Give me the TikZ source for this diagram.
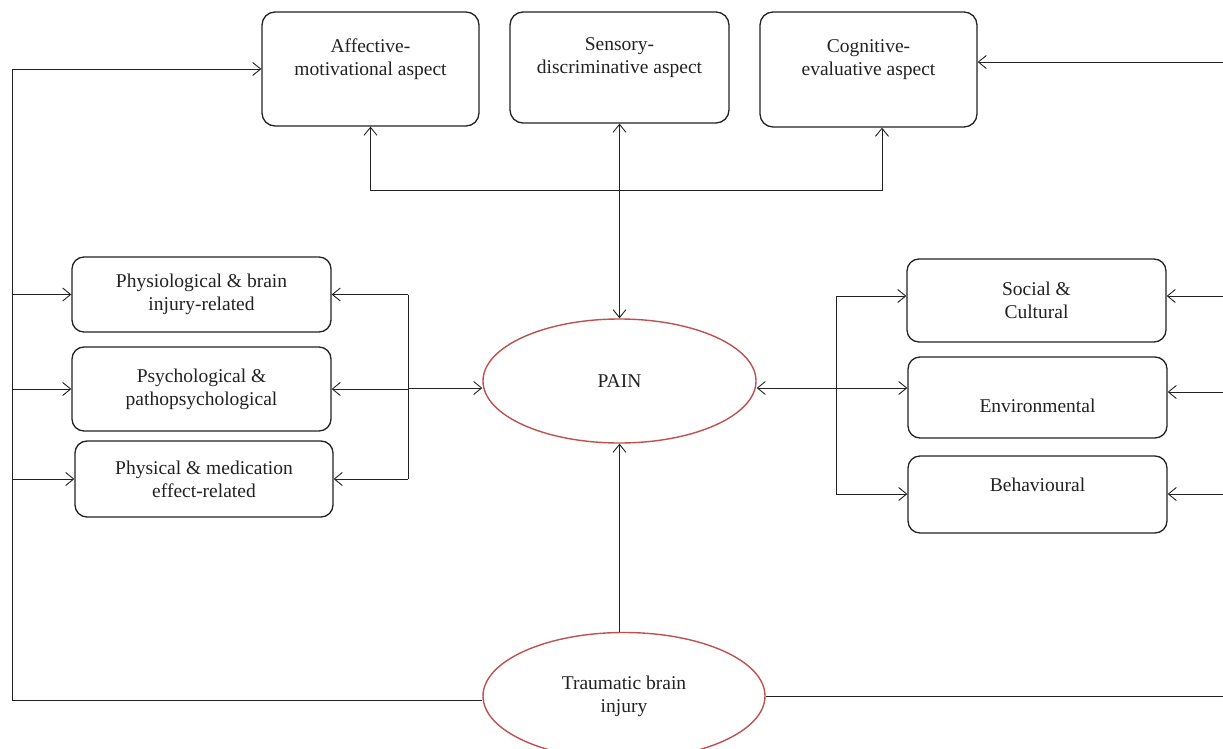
\documentclass[tikz,border=0pt]{standalone}
\usepackage{fontspec}
\setmainfont{Liberation Serif}
\usetikzlibrary{arrows.meta, positioning, shapes.geometric}
\definecolor{pRed}{HTML}{C0504D}
\definecolor{pInk}{HTML}{222222}

\begin{document}
\begin{tikzpicture}[x=1pt, y=-1pt,
    every node/.style={font=\fontsize{19.5}{23}\selectfont, text=pInk, align=center},
    box/.style={draw=pInk, line width=1.3pt, rounded corners=13pt, inner sep=0pt},
    oval/.style={draw=pRed, line width=1.4pt, ellipse, inner sep=0pt},
    link/.style={draw=pInk, line width=0.9pt},
    arr/.style={link, -{Straight Barb[length=8pt, width=13pt]}},
    dblarr/.style={link, {Straight Barb[length=8pt, width=13pt]}-{Straight Barb[length=8pt, width=13pt]}}]

    \useasboundingbox (0,0) rectangle (1223,749);

    % three aspects
    \node[box, minimum width=217pt, minimum height=114pt] (aff) at (370.5,69) {Affective-\\motivational aspect\\\mbox{}};
    \node[box, minimum width=219pt, minimum height=111pt] (sen) at (619.5,67.5) {Sensory-\\discriminative aspect\\\mbox{}};
    \node[box, minimum width=217pt, minimum height=115pt] (cog) at (868.5,69.5) {Cognitive-\\evaluative aspect\\\mbox{}};

    % centre
    \node[oval, minimum width=273pt, minimum height=124pt] (pain) at (619.5,381) {PAIN};
    \node[oval, minimum width=282pt, minimum height=127pt] (tbi) at (624,696) {Traumatic brain\\injury};

    % left factors
    \node[box, rounded corners=12pt, minimum width=259pt, minimum height=75pt] (phy) at (201.5,294.5) {Physiological \& brain\\injury-related};
    \node[box, rounded corners=12pt, minimum width=259pt, minimum height=84pt] (psy) at (201.5,389) {Psychological \&\\pathopsychological};
    \node[box, rounded corners=12pt, minimum width=258pt, minimum height=76pt] (med) at (204,479) {Physical \& medication\\effect-related};

    % right factors
    \node[box, rounded corners=12pt, minimum width=259pt, minimum height=83pt] (soc) at (1036.5,300.5) {Social \&\\Cultural};
    \node[box, rounded corners=12pt, minimum width=259pt, minimum height=81pt] (env) at (1037.5,397.5) {\mbox{}\\[6.5pt]Environmental};
    \node[box, rounded corners=12pt, minimum width=259pt, minimum height=77pt] (beh) at (1037.5,494.5) {Behavioural\\[-4pt]\mbox{}};

    % aspects <-> pain
    \coordinate (bar) at (619.5,190);
    \draw[arr] (bar) -| (aff.south);
    \draw[arr] (bar) -| ([xshift=13.5pt]cog.south);
    \draw[dblarr] (sen.south) -- (pain.north);
    \draw[arr] (tbi.north -| pain.south) -- (pain.south);

    % outer loop on the left
    \coordinate (lft) at (12,700);
    \draw[link] (tbi.west |- lft) -- (lft);
    \draw[arr] (lft) |- (aff.west);
    \draw[arr] (lft |- phy.west) -- (phy.west);
    \draw[arr] (lft |- psy.west) -- (psy.west);
    \draw[arr] (lft |- med.west) -- (med.west);

    % left bracket
    \coordinate (lbr) at (408,388);
    \draw[link] (lbr |- phy.east) -- (lbr |- med.east);
    \draw[arr] (lbr |- phy.east) -- (phy.east);
    \draw[arr] (lbr |- psy.east) -- (psy.east);
    \draw[arr] (lbr |- med.east) -- (med.east);
    \draw[arr] (lbr) -- (lbr -| pain.west);

    % right bracket
    \coordinate (rbr) at (836,388);
    \coordinate (rtop) at (836,296);
    \coordinate (rbot) at (836,494);
    \draw[link] (rtop) -- (rbot);
    \draw[arr] (rbr) -- (rbr -| pain.east);
    \draw[arr] (rtop) -- (rtop -| soc.west);
    \draw[arr] (rbr) -- (rbr -| env.west);
    \draw[arr] (rbot) -- (rbot -| beh.west);

    % outer loop on the right
    \coordinate (ecog) at (1223,62);
    \coordinate (esoc) at (1223,296);
    \coordinate (eenv) at (1223,392);
    \coordinate (ebeh) at (1223,494);
    \coordinate (etbi) at (1223,696);
    \draw[link] (tbi.east) -- (etbi);
    \draw[arr] (ecog) -- (ecog -| cog.east);
    \draw[arr] (esoc) -- (esoc -| soc.east);
    \draw[arr] (eenv) -- (eenv -| env.east);
    \draw[arr] (ebeh) -- (ebeh -| beh.east);
\end{tikzpicture}
\end{document}
